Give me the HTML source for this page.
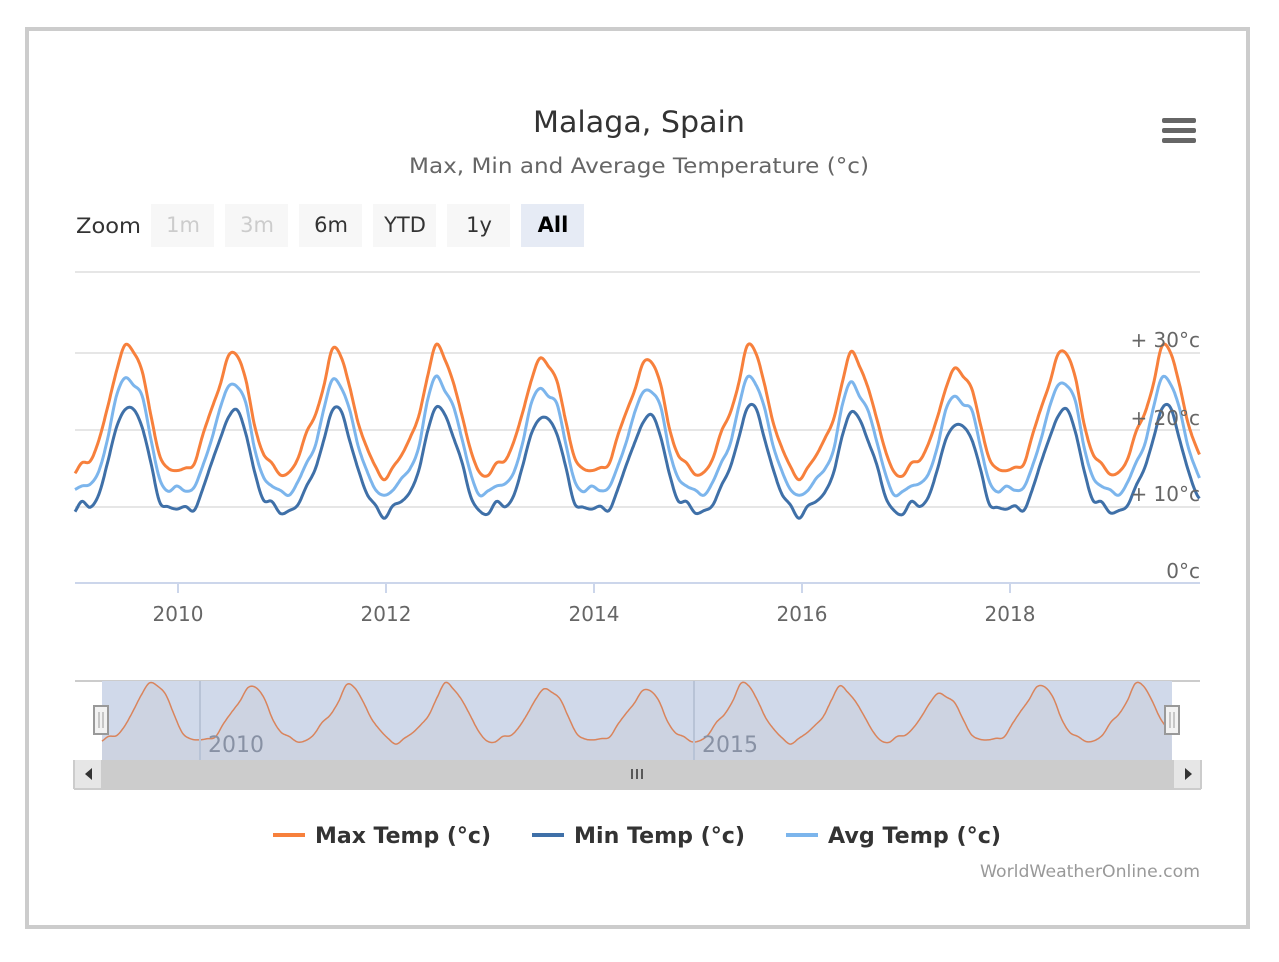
<!DOCTYPE html>
<html><head><meta charset="utf-8"><style>
body{margin:0;background:#fff;width:1279px;height:957px;overflow:hidden}
</style></head><body>
<svg id="s" width="1279" height="957" xmlns="http://www.w3.org/2000/svg" font-family="DejaVu Sans, Liberation Sans, sans-serif">
<rect x="27" y="29" width="1221" height="898" fill="#fff" stroke="#ccc" stroke-width="4"/>
<text x="533" y="132" font-size="29" fill="#333" textLength="212" lengthAdjust="spacingAndGlyphs">Malaga, Spain</text>
<text x="409" y="173" font-size="21" fill="#666" textLength="460" lengthAdjust="spacingAndGlyphs">Max, Min and Average Temperature (°c)</text>
<g fill="#666"><rect x="1162" y="118" width="34" height="5" rx="2"/><rect x="1162" y="128" width="34" height="5" rx="2"/><rect x="1162" y="138" width="34" height="5" rx="2"/></g>
<text x="76" y="233" font-size="21" fill="#333" textLength="65" lengthAdjust="spacingAndGlyphs">Zoom</text>
<g font-size="21" text-anchor="middle">
<rect x="151" y="204" width="63" height="43" fill="#f7f7f7"/><text x="183" y="232" fill="#ccc">1m</text>
<rect x="225" y="204" width="63" height="43" fill="#f7f7f7"/><text x="257" y="232" fill="#ccc">3m</text>
<rect x="299" y="204" width="63" height="43" fill="#f7f7f7"/><text x="331" y="232" fill="#333">6m</text>
<rect x="373" y="204" width="63" height="43" fill="#f7f7f7"/><text x="405" y="232" fill="#333">YTD</text>
<rect x="447" y="204" width="63" height="43" fill="#f7f7f7"/><text x="479" y="232" fill="#333">1y</text>
<rect x="521" y="204" width="63" height="43" fill="#e6ebf5"/><text x="553" y="232" fill="#000" font-weight="bold">All</text>
</g>
<g stroke="#e6e6e6" stroke-width="2"><line x1="75" x2="1200" y1="272" y2="272"/><line x1="75" x2="1200" y1="353" y2="353"/><line x1="75" x2="1200" y1="430" y2="430"/><line x1="75" x2="1200" y1="507" y2="507"/></g>
<line x1="75" x2="1200" y1="583" y2="583" stroke="#ccd6eb" stroke-width="2"/>
<g id="ticks"></g>
<g id="series" fill="none" stroke-width="3" stroke-linejoin="round"></g>
<g font-size="20" fill="#666" text-anchor="end"><text x="1200" y="347">+ 30°c</text><text x="1200" y="425">+ 20°c</text><text x="1200" y="501">+ 10°c</text><text x="1200" y="578">0°c</text></g>
<g font-size="20" fill="#666" text-anchor="middle"><text x="178" y="621">2010</text><text x="386" y="621">2012</text><text x="594" y="621">2014</text><text x="802" y="621">2016</text><text x="1010" y="621">2018</text></g>
<line x1="75" x2="1200" y1="681" y2="681" stroke="#ccc" stroke-width="2"/>
<rect x="102" y="681" width="1070" height="79" fill="#d0d9ea"/>
<g id="nav"></g>
<line x1="200" x2="200" y1="681" y2="760" stroke="#b8c3d6" stroke-width="2"/>
<line x1="694" x2="694" y1="681" y2="760" stroke="#b8c3d6" stroke-width="2"/>
<g font-size="22" fill="#8891a4"><text x="208" y="752">2010</text><text x="702" y="752">2015</text></g>
<rect x="94" y="706" width="14" height="28" fill="#f2f2f2" stroke="#999" stroke-width="2"/><line x1="99" x2="99" y1="712" y2="728" stroke="#999"/><line x1="103" x2="103" y1="712" y2="728" stroke="#999"/>
<rect x="1165" y="706" width="14" height="28" fill="#f2f2f2" stroke="#999" stroke-width="2"/><line x1="1170" x2="1170" y1="712" y2="728" stroke="#999"/><line x1="1174" x2="1174" y1="712" y2="728" stroke="#999"/>
<rect x="75" y="760" width="1125" height="28" fill="#ccc"/>
<rect x="75" y="760" width="26" height="28" fill="#e6e6e6"/><rect x="1174" y="760" width="26" height="28" fill="#e6e6e6"/>
<path d="M85 774 L92 768 V780 Z" fill="#333"/><path d="M1185 768 V780 L1192 774 Z" fill="#333"/>
<g stroke="#333" stroke-width="1.5"><line x1="632" x2="632" y1="769" y2="779"/><line x1="637" x2="637" y1="769" y2="779"/><line x1="642" x2="642" y1="769" y2="779"/></g>
<line x1="74" x2="1201" y1="789" y2="789" stroke="#ccc" stroke-width="2"/>
<line x1="74" x2="74" y1="760" y2="789" stroke="#ccc" stroke-width="2"/><line x1="1201" x2="1201" y1="760" y2="789" stroke="#ccc" stroke-width="2"/>
<g font-size="22" font-weight="bold" fill="#333">
<line x1="273" x2="305" y1="835" y2="835" stroke="#f7803c" stroke-width="4"/><text x="315" y="843" textLength="176" lengthAdjust="spacingAndGlyphs">Max Temp (°c)</text>
<line x1="532" x2="564" y1="835" y2="835" stroke="#3f70a8" stroke-width="4"/><text x="574" y="843" textLength="171" lengthAdjust="spacingAndGlyphs">Min Temp (°c)</text>
<line x1="786" x2="818" y1="835" y2="835" stroke="#7cb5ec" stroke-width="4"/><text x="828" y="843" textLength="173" lengthAdjust="spacingAndGlyphs">Avg Temp (°c)</text>
</g>
<text x="980" y="877" font-size="17" fill="#999" textLength="220" lengthAdjust="spacingAndGlyphs">WorldWeatherOnline.com</text>
</svg>
<script>
var NS="http://www.w3.org/2000/svg";
var mx=[14,15,16,19,22,26,30,29,26,21,17,15];
var mn=[9,10,10,12,15,19,22,22,19,15,11,10];
var av=[12,12,13,15,18,23,26,25,23,18,14,12];
var pk=[1.5,0,0,0.6,-0.5,-1,0.5,-0.5,-2,0.3,0.5];
function val(arr,t,sh){var m=(t+0.06)*12-0.5;var i=Math.floor(m),f=m-i;
 function g(k){var y=Math.floor(k/12),mm=((k%12)+12)%12;var v=arr[mm];var w=Math.max(0,1-Math.abs(mm-6.5)/4);var yi=Math.max(0,Math.min(10,y));return v+pk[yi]*w*sh+Math.sin(k*1.7)*0.6;}
 var p0=g(i-1),p1=g(i),p2=g(i+1),p3=g(i+2);
 return 0.5*((2*p1)+(-p0+p2)*f+(2*p0-5*p1+4*p2-p3)*f*f+(-p0+3*p1-3*p2+p3)*f*f*f);}
function path(arr,sh,x0,x1,yf){var d="";for(var t=0;t<=10.85;t+=1/96){var x=x0+t*x1;var y=yf(val(arr,t,sh));d+=(d?"L":"M")+x.toFixed(1)+" "+y.toFixed(1);}return d;}
var g=document.getElementById("series");
[[mx,"#f7803c",1],[av,"#7cb5ec",0.8],[mn,"#3f70a8",0.7]].forEach(function(a){var p=document.createElementNS(NS,"path");p.setAttribute("d",path(a[0],a[2],75,103.7,function(v){return 583-7.7*v}));p.setAttribute("stroke",a[1]);g.appendChild(p);});
var tk=document.getElementById("ticks");[178,386,594,802,1010].forEach(function(x){var l=document.createElementNS(NS,"line");l.setAttribute("x1",x);l.setAttribute("x2",x);l.setAttribute("y1",583);l.setAttribute("y2",593);l.setAttribute("stroke","#ccd6eb");l.setAttribute("stroke-width","2");tk.appendChild(l);});
var nd=path(mx,1,102,98.6,function(v){return 791-3.5*v});
var n=document.getElementById("nav");
var f=document.createElementNS(NS,"path");f.setAttribute("d",nd+"L1172 760L102 760Z");f.setAttribute("fill","rgba(200,200,210,0.35)");n.appendChild(f);
var l=document.createElementNS(NS,"path");l.setAttribute("d",nd);l.setAttribute("fill","none");l.setAttribute("stroke","#d9845c");l.setAttribute("stroke-width","1.5");n.appendChild(l);
</script>
</body></html>
